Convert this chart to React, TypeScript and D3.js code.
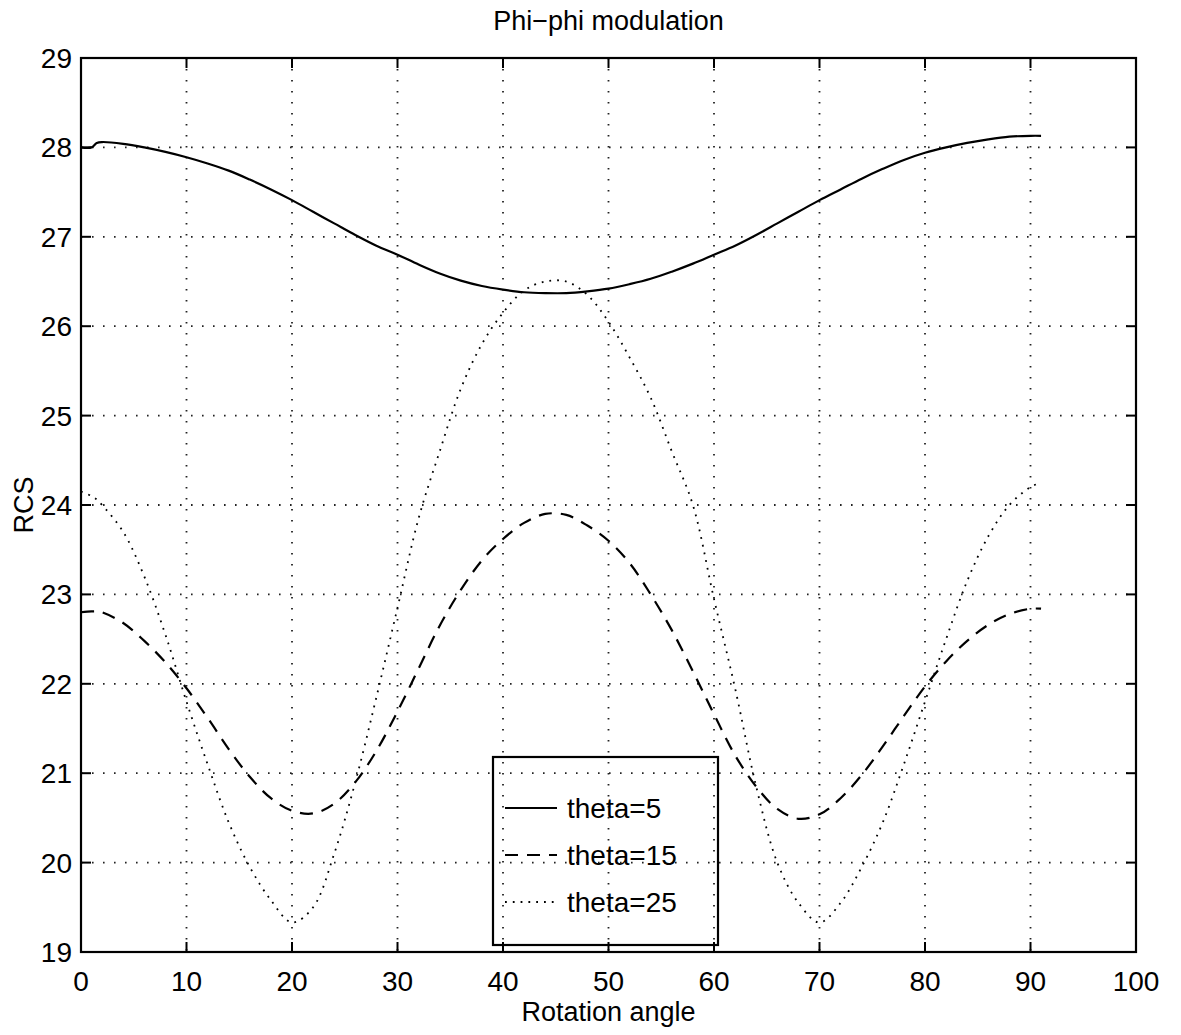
import React from "react"
import { scaleLinear, line, curveCatmullRom } from "d3"

const width = 1181;
const height = 1035;
const left = 81;
const right = 1136;
const top = 58;
const bottom = 952;
const tickLen = 10;
const font = "'Liberation Sans', Arial, Helvetica, sans-serif";

// rotation angle samples shared by the three curves
const angles = [0, 1, 1.5, 2, 4, 6, 8, 10, 12, 14, 16, 18, 20, 22, 24, 26, 28, 30, 32, 34, 36, 38, 40,
  42, 44, 46, 48, 50, 52, 54, 56, 58, 60, 62, 64, 66, 68, 70, 72, 74, 76, 78, 80, 82, 84, 86, 88, 90, 91];

const theta5 = [28.0, 28.0, 28.05, 28.06, 28.04, 28.0, 27.95, 27.89, 27.82, 27.74, 27.64, 27.53, 27.41,
  27.28, 27.15, 27.02, 26.9, 26.8, 26.69, 26.59, 26.51, 26.45, 26.41, 26.38, 26.37, 26.37, 26.39, 26.42,
  26.47, 26.53, 26.61, 26.7, 26.8, 26.9, 27.02, 27.15, 27.28, 27.41, 27.53, 27.65, 27.76, 27.86, 27.94,
  28.0, 28.05, 28.09, 28.12, 28.13, 28.13];

const theta15 = [22.8, 22.81, 22.81, 22.8, 22.68, 22.48, 22.24, 21.95, 21.62, 21.27, 20.96, 20.72, 20.58,
  20.55, 20.66, 20.9, 21.25, 21.69, 22.17, 22.65, 23.05, 23.38, 23.62, 23.8, 23.9, 23.89, 23.77, 23.6,
  23.35, 23.0, 22.6, 22.14, 21.66, 21.2, 20.85, 20.6, 20.49, 20.54, 20.72, 20.98, 21.3, 21.64, 21.97,
  22.25, 22.48, 22.66, 22.78, 22.84, 22.84];

const theta25 = [24.15, 24.1, 24.06, 24.0, 23.7, 23.2, 22.55, 21.8, 21.1, 20.45, 19.95, 19.58, 19.33,
  19.5, 20.1, 20.9, 21.85, 22.85, 23.85, 24.6, 25.3, 25.8, 26.15, 26.4, 26.5, 26.5, 26.35, 26.05, 25.65,
  25.2, 24.6, 24.0, 22.95, 21.95, 20.85, 20.0, 19.55, 19.33, 19.55, 19.95, 20.45, 21.1, 21.8, 22.5,
  23.15, 23.65, 24.0, 24.2, 24.25];

const xTicks = [0, 10, 20, 30, 40, 50, 60, 70, 80, 90, 100];
const yTicks = [19, 20, 21, 22, 23, 24, 25, 26, 27, 28, 29];

const series = [
  { label: "theta=5", values: theta5, dash: "none", w: 2.2 },
  { label: "theta=15", values: theta15, dash: "13,9", w: 2.2 },
  { label: "theta=25", values: theta25, dash: "1.8,6", w: 1.8 },
];

const x = scaleLinear().domain([0, 100]).range([left, right]);
const y = scaleLinear().domain([19, 29]).range([bottom, top]);

const makeLine = (values) =>
  line()
    .x((d, i) => x(angles[i]))
    .y((d) => y(d))
    .curve(curveCatmullRom.alpha(0.5))(values);

const App = () => (
  <svg width={width} height={height} style={{ position: "absolute", left: 0, top: 0, background: "white" }}>
    <rect x={0} y={0} width={width} height={height} fill="white" />

    {/* grid */}
    {xTicks.slice(1, -1).map((t) => (
      <line key={"gx" + t} x1={x(t)} x2={x(t)} y1={top} y2={bottom}
        stroke="#222" strokeWidth={1.8} strokeDasharray="1.6,9.4" />
    ))}
    {yTicks.slice(1, -1).map((t) => (
      <line key={"gy" + t} x1={left} x2={right} y1={y(t)} y2={y(t)}
        stroke="#222" strokeWidth={1.8} strokeDasharray="1.6,9.4" />
    ))}

    {/* curves */}
    {series.map((s) => (
      <path key={s.label} d={makeLine(s.values)} fill="none" stroke="black"
        strokeWidth={s.w} strokeDasharray={s.dash} />
    ))}

    {/* axes box and ticks */}
    <rect x={left} y={top} width={right - left} height={bottom - top} fill="none" stroke="black" strokeWidth={2.2} />
    {xTicks.map((t) => (
      <g key={"tx" + t}>
        <line x1={x(t)} x2={x(t)} y1={bottom} y2={bottom - tickLen} stroke="black" strokeWidth={2} />
        <line x1={x(t)} x2={x(t)} y1={top} y2={top + tickLen} stroke="black" strokeWidth={2} />
        <text x={x(t)} y={991} textAnchor="middle" fontFamily={font} fontSize={28}>{t}</text>
      </g>
    ))}
    {yTicks.map((t) => (
      <g key={"ty" + t}>
        <line x1={left} x2={left + tickLen} y1={y(t)} y2={y(t)} stroke="black" strokeWidth={2} />
        <line x1={right} x2={right - tickLen} y1={y(t)} y2={y(t)} stroke="black" strokeWidth={2} />
        <text x={72} y={y(t)} dy="0.36em" textAnchor="end" fontFamily={font} fontSize={28}>{t}</text>
      </g>
    ))}

    {/* labels */}
    <text x={(left + right) / 2} y={30} textAnchor="middle" fontFamily={font} fontSize={27}>Phi−phi modulation</text>
    <text x={(left + right) / 2} y={1021} textAnchor="middle" fontFamily={font} fontSize={27}>Rotation angle</text>
    <text transform={`translate(33,${(top + bottom) / 2}) rotate(-90)`} textAnchor="middle" fontFamily={font} fontSize={27}>RCS</text>

    {/* legend */}
    <rect x={493} y={757} width={225} height={188} fill="none" stroke="black" strokeWidth={2.2} />
    {series.map((s, i) => {
      const ly = [808, 855, 902][i];
      return (
        <g key={"lg" + s.label}>
          <line x1={505} x2={557} y1={ly} y2={ly} stroke="black"
            strokeWidth={s.w} strokeDasharray={s.dash} />
          <text x={567} y={ly} dy="0.36em" fontFamily={font} fontSize={28}>{s.label}</text>
        </g>
      );
    })}
  </svg>
)

export default App
